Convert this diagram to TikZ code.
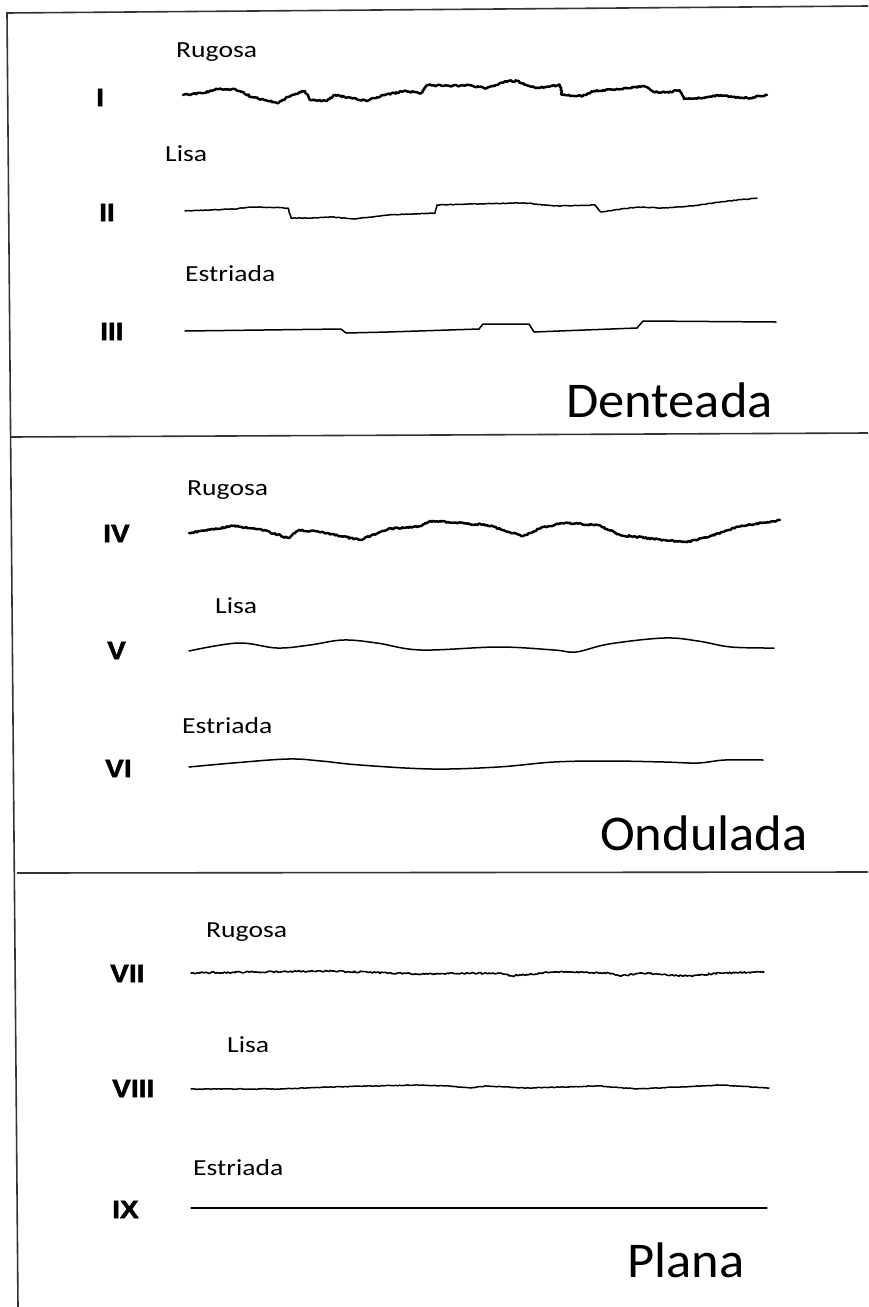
\documentclass[tikz,border=0pt]{standalone}
\usepackage{fontspec}
\setmainfont{Carlito}
\newfontfamily\lblfont[FakeStretch=1.2]{Carlito}
\newfontfamily\bigfont[FakeStretch=1.05]{Carlito}
\newfontfamily\numfont[FakeStretch=1.12, BoldFeatures={FakeBold=2}]{Liberation Sans}
\usetikzlibrary{decorations.pathmorphing}

\begin{document}
\begin{tikzpicture}[
  x=1pt, y=-1pt,
  frame/.style={line width=1.6pt, black!80},
  numeral/.style={anchor=base west, inner sep=0pt,
                  font=\numfont\bfseries\fontsize{25}{25}\selectfont},
  kind/.style={anchor=base west, inner sep=0pt,
               font=\lblfont\fontsize{23}{23}\selectfont},
  family/.style={anchor=base west, inner sep=0pt,
                 font=\bigfont\fontsize{50}{50}\selectfont},
  trace/.style={line width=1.5pt, line join=round, line cap=round},
  rough/.style={trace, line width=2.5pt, decorate,
                decoration={random steps, segment length=1.6pt, amplitude=0.8pt}},
  fine/.style={trace, decorate,
               decoration={random steps, segment length=2pt, amplitude=0.35pt}},
]
\pgfmathsetseed{12}
\useasboundingbox (0,0) rectangle (868,1307);
\fill[white] (0,0) rectangle (868,1307);

% frame and dividers
\draw[frame] (868,6) -- (7,13) -- (18,1307);
\draw[frame] (10,437) -- (868,433);
\draw[frame] (17,873) -- (868,872);

% numerals
\node[numeral] (n1) at (96,106) {I};
\node[numeral] (n2) at (99,221) {II};
\node[numeral] (n3) at (100,340) {III};
\node[numeral] (n4) at (103,542) {IV};
\node[numeral] (n5) at (107,659) {V};
\node[numeral] (n6) at (105,777) {VI};
\node[numeral] (n7) at (110,982) {VII};
\node[numeral] (n8) at (112,1097) {VIII};
\node[numeral] (n9) at (112,1218) {IX};

% surface labels
\node[kind] (k1) at (176,57) {Rugosa};
\node[kind] (k2) at (165,161) {Lisa};
\node[kind] (k3) at (185,281) {Estriada};
\node[kind] (k4) at (187,495) {Rugosa};
\node[kind] (k5) at (215,613) {Lisa};
\node[kind] (k6) at (182,733) {Estriada};
\node[kind] (k7) at (206,937) {Rugosa};
\node[kind] (k8) at (227,1052) {Lisa};
\node[kind] (k9) at (193,1175) {Estriada};

\node[family] (denteada) at (566,417) {Denteada};
\node[family] (ondulada) at (600,850) {Ondulada};
\node[family] (plana) at (627,1277) {Plana};

% Denteada profiles
\draw[rough] plot coordinates {(183,95) (204,93) (217,89) (235,89) (252,97)
  (277,103) (292,95) (305,91) (310,100) (327,101) (335,95) (367,101) (381,96)
  (404,91) (421,93) (427,85) (450,86) (467,85) (487,88) (508,81) (517,81)
  (535,88) (560,85) (562,95) (583,96) (594,91) (621,89) (644,86) (654,92)
  (671,92) (679,90) (684,99) (700,98) (721,95) (733,97) (750,98) (767,95)};
\draw[fine] plot coordinates {(185,211) (233,209) (255,207) (288,208) (291,218)
  (310,218) (332,217) (354,219) (388,215) (435,213) (437,205) (471,204)
  (526,203) (554,206) (595,205) (601,212) (637,207) (664,208) (692,206)
  (720,202) (757,198)};
\draw[trace] plot coordinates {(185,331) (341,329) (346,333) (388,332) (479,329)
  (483,324) (529,324) (534,332) (559,331) (637,328) (643,321) (776,322)};

% Ondulada profiles
\draw[rough] plot coordinates {(189,533) (233,526) (260,529) (288,538) (299,530)
  (321,532) (360,540) (388,529) (421,526) (432,521) (487,525) (509,532)
  (523,536) (543,527) (565,523) (598,525) (620,535) (664,540) (687,542)
  (709,537) (736,527) (780,520)};
\draw[trace] plot[smooth, tension=0.6] coordinates {(189,651) (238,643) (277,648)
  (310,645) (343,640) (377,643) (421,650) (498,647) (554,650) (576,652)
  (609,644) (664,638) (698,641) (731,647) (774,648)};
\draw[trace] plot[smooth, tension=0.6] coordinates {(189,767) (233,763) (288,759)
  (321,761) (360,765) (432,769) (498,767) (554,762) (609,761) (664,762)
  (698,763) (725,760) (763,760)};

% Plana profiles
\draw[rough, line width=1.6pt] plot coordinates {(191,973) (249,972) (332,971)
  (415,974) (498,973) (512,976) (554,972) (609,973) (620,976) (642,973)
  (687,976) (720,973) (764,972)};
\draw[fine] plot coordinates {(191,1089) (277,1089) (332,1087) (415,1085)
  (449,1086) (471,1088) (487,1086) (526,1088) (598,1086) (637,1089)
  (720,1085) (769,1088)};
\draw[trace, line width=1.3pt] (191,1208) -- (767,1208);
\end{tikzpicture}
\end{document}
